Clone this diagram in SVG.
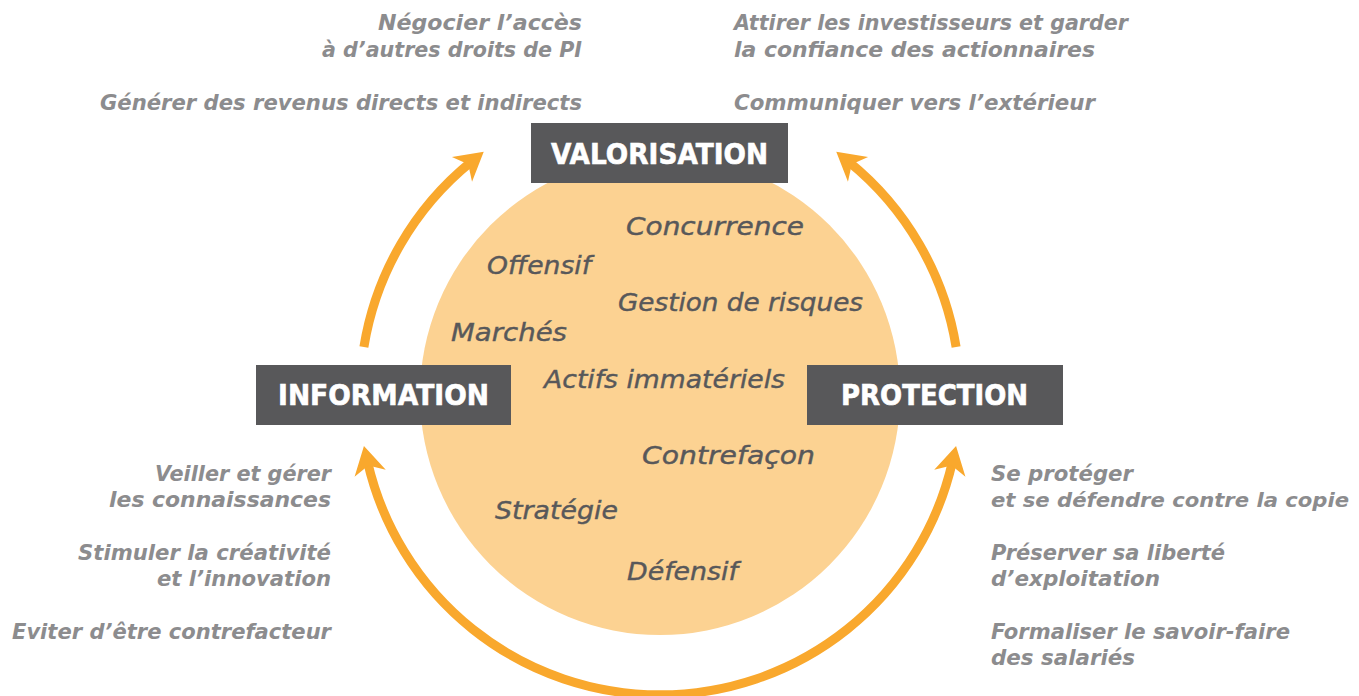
<svg xmlns="http://www.w3.org/2000/svg" width="1359" height="696" viewBox="0 0 1359 696">
<style>
.side{font-family:"DejaVu Sans","Liberation Sans",sans-serif;font-style:italic;font-weight:700;font-size:22px;fill:#8c8c8e}
.inner{font-family:"DejaVu Sans","Liberation Sans",sans-serif;font-style:italic;font-weight:400;font-size:24px;fill:#58585a;stroke:#58585a;stroke-width:0.4}
.box{fill:#58585a}
.lbl{font-family:"DejaVu Sans","Liberation Sans",sans-serif;font-weight:700;font-size:28px;fill:#ffffff;stroke:#ffffff;stroke-width:0.6}
.arc{fill:none;stroke:#f9a82d;stroke-width:9}
</style>
<defs>
<marker id="ah" viewBox="-20 -20 40 40" refX="0" refY="0" markerWidth="40" markerHeight="40" markerUnits="userSpaceOnUse" orient="auto-start-reverse" overflow="visible">
<path d="M16,0 L-12,-16 L-4,0 L-12,16 Z" fill="#f9a82d"/>
</marker>
</defs>
<rect width="1359" height="696" fill="#ffffff"/>
<g id="core">
<circle cx="660" cy="395" r="240" fill="#fcd292"/>
</g>
<g id="connectors">
<path class="arc" d="M363.9,347 A300,300 0 0 1 471.3,161.8" marker-end="url(#ah)"/>
<path class="arc" d="M956.1,347 A300,300 0 0 0 848.7,161.8" marker-end="url(#ah)"/>
<path class="arc" d="M367.5,461.5 A300,300 0 0 0 952.5,461.5" marker-start="url(#ah)" marker-end="url(#ah)"/>
</g>
<g id="inner-terms">
<text class="inner" x="626" y="235" textLength="178" lengthAdjust="spacingAndGlyphs">Concurrence</text>
<text class="inner" x="487" y="274" textLength="104" lengthAdjust="spacingAndGlyphs">Offensif</text>
<text class="inner" x="618" y="311" textLength="245" lengthAdjust="spacingAndGlyphs">Gestion de risques</text>
<text class="inner" x="451" y="341" textLength="116" lengthAdjust="spacingAndGlyphs">Marchés</text>
<text class="inner" x="544" y="388" textLength="241" lengthAdjust="spacingAndGlyphs">Actifs immatériels</text>
<text class="inner" x="642" y="464" textLength="173" lengthAdjust="spacingAndGlyphs">Contrefaçon</text>
<text class="inner" x="495" y="519" textLength="123" lengthAdjust="spacingAndGlyphs">Stratégie</text>
<text class="inner" x="627" y="580" textLength="111" lengthAdjust="spacingAndGlyphs">Défensif</text>
</g>
<g id="valorisation">
<rect class="box" x="531" y="123" width="257" height="60"/>
<text class="lbl" x="551" y="164" textLength="217" lengthAdjust="spacingAndGlyphs">VALORISATION</text>
</g>
<g id="information">
<rect class="box" x="256" y="365" width="255" height="60"/>
<text class="lbl" x="278" y="405" textLength="211" lengthAdjust="spacingAndGlyphs">INFORMATION</text>
</g>
<g id="protection">
<rect class="box" x="807" y="365" width="256" height="60"/>
<text class="lbl" x="841" y="405" textLength="187" lengthAdjust="spacingAndGlyphs">PROTECTION</text>
</g>
<g id="valorisation-notes">
<text class="side" x="378" y="30" textLength="204" lengthAdjust="spacingAndGlyphs">Négocier l’accès</text>
<text class="side" x="322" y="57" textLength="260" lengthAdjust="spacingAndGlyphs">à d’autres droits de PI</text>
<text class="side" x="100" y="110" textLength="482" lengthAdjust="spacingAndGlyphs">Générer des revenus directs et indirects</text>
<text class="side" x="734" y="30" textLength="394" lengthAdjust="spacingAndGlyphs">Attirer les investisseurs et garder</text>
<text class="side" x="734" y="57" textLength="361" lengthAdjust="spacingAndGlyphs">la confiance des actionnaires</text>
<text class="side" x="734" y="110" textLength="361" lengthAdjust="spacingAndGlyphs">Communiquer vers l’extérieur</text>
</g>
<g id="information-notes">
<text class="side" x="155" y="481" textLength="176" lengthAdjust="spacingAndGlyphs">Veiller et gérer</text>
<text class="side" x="109" y="507" textLength="222" lengthAdjust="spacingAndGlyphs">les connaissances</text>
<text class="side" x="78" y="560" textLength="253" lengthAdjust="spacingAndGlyphs">Stimuler la créativité</text>
<text class="side" x="157" y="586" textLength="174" lengthAdjust="spacingAndGlyphs">et l’innovation</text>
<text class="side" x="12" y="639" textLength="319" lengthAdjust="spacingAndGlyphs">Eviter d’être contrefacteur</text>
</g>
<g id="protection-notes">
<text class="side" x="991" y="481" textLength="142" lengthAdjust="spacingAndGlyphs">Se protéger</text>
<text class="side" x="991" y="507" style="font-size:19px" textLength="358" lengthAdjust="spacingAndGlyphs">et se défendre contre la copie</text>
<text class="side" x="991" y="560" textLength="234" lengthAdjust="spacingAndGlyphs">Préserver sa liberté</text>
<text class="side" x="991" y="586" textLength="169" lengthAdjust="spacingAndGlyphs">d’exploitation</text>
<text class="side" x="991" y="639" textLength="299" lengthAdjust="spacingAndGlyphs">Formaliser le savoir-faire</text>
<text class="side" x="991" y="665" textLength="144" lengthAdjust="spacingAndGlyphs">des salariés</text>
</g>
</svg>
